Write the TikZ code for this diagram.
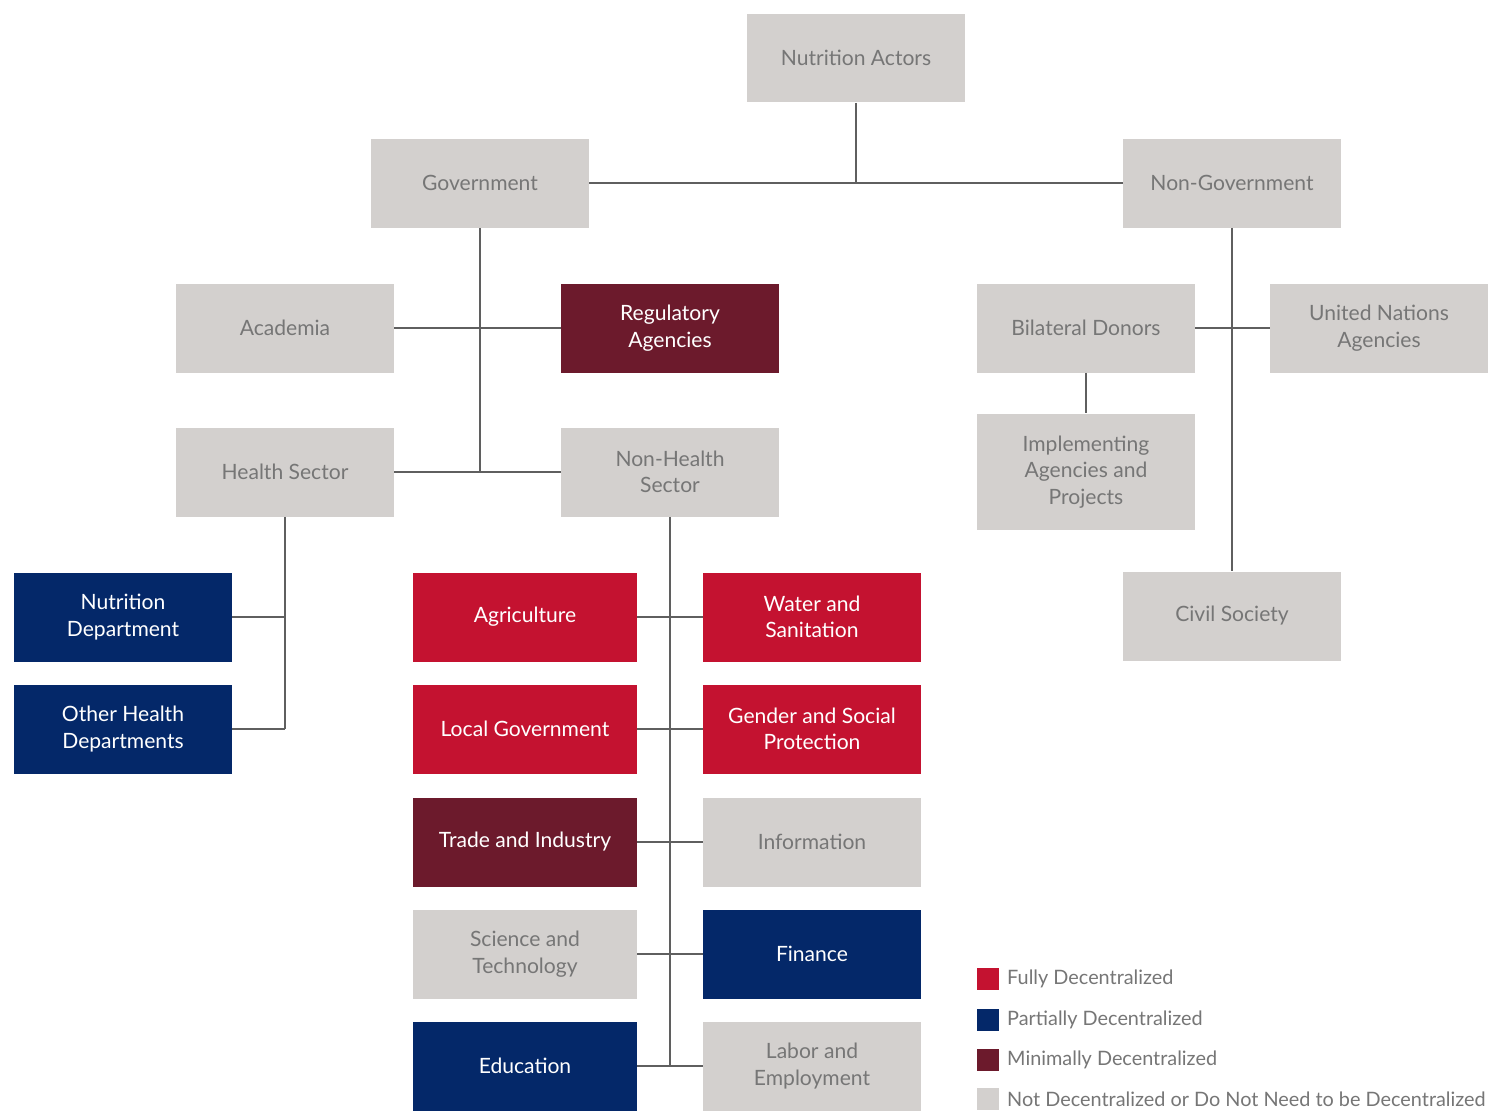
\documentclass[tikz,border=0pt]{standalone}
\usepackage{fontspec}
\setmainfont{Lato}
\definecolor{fullred}{RGB}{196,18,48}
\definecolor{partblue}{RGB}{4,40,105}
\definecolor{minmaroon}{RGB}{108,26,44}
\definecolor{notgray}{RGB}{211,208,206}
\definecolor{graytext}{RGB}{118,118,118}
\definecolor{linegray}{RGB}{95,95,95}

\tikzset{
    actor/.style={rectangle, minimum width=4.36cm, minimum height=1.78cm, align=center, inner sep=2pt, font=\fontsize{12}{15}\selectfont},
    grayactor/.style={actor, fill=notgray, text=graytext},
    redactor/.style={actor, fill=fullred, text=white},
    blueactor/.style={actor, fill=partblue, text=white},
    maroonactor/.style={actor, fill=minmaroon, text=white},
    link/.style={draw=linegray, line width=0.9pt},
    keybox/.style={rectangle, minimum size=0.44cm, inner sep=0pt},
    keytext/.style={anchor=west, text=graytext, font=\fontsize{11.3}{13}\selectfont}
}

\begin{document}
\begin{tikzpicture}[x=0.02cm, y=-0.02cm]
    \useasboundingbox[fill=white] (0,0) rectangle (1492,1110);

    % Top levels
    \node[grayactor] (actors) at (856,58) {Nutrition Actors};
    \node[grayactor] (gov) at (480,183) {Government};
    \node[grayactor] (nongov) at (1232,183) {Non-Government};

    % Government branch
    \node[grayactor] (academia) at (285,328) {Academia};
    \node[maroonactor] (regulatory) at (670,328) {Regulatory\\Agencies};
    \node[grayactor] (health) at (285,472) {Health Sector};
    \node[grayactor] (nonhealth) at (670,472) {Non-Health\\Sector};

    % Health sector
    \node[blueactor] (nutdept) at (123,617) {Nutrition\\Department};
    \node[blueactor] (otherhealth) at (123,729) {Other Health\\Departments};

    % Non-health sector, left column
    \node[redactor, minimum width=4.48cm] (agri) at (525,617) {Agriculture};
    \node[redactor, minimum width=4.48cm] (localgov) at (525,729) {Local Government};
    \node[maroonactor, minimum width=4.48cm] (trade) at (525,842) {Trade and Industry};
    \node[grayactor, minimum width=4.48cm] (science) at (525,954) {Science and\\Technology};
    \node[blueactor, minimum width=4.48cm] (education) at (525,1066) {Education};

    % Non-health sector, right column
    \node[redactor] (water) at (812,617) {Water and\\Sanitation};
    \node[redactor] (gender) at (812,729) {Gender and Social\\Protection};
    \node[grayactor] (info) at (812,842) {Information};
    \node[blueactor] (finance) at (812,954) {Finance};
    \node[grayactor] (labor) at (812,1066) {Labor and\\Employment};

    % Non-government branch
    \node[grayactor] (bilateral) at (1086,328) {Bilateral Donors};
    \node[grayactor] (un) at (1379,328) {United Nations\\Agencies};
    \node[grayactor, minimum height=2.34cm] (implement) at (1086,472) {Implementing\\Agencies and\\Projects};
    \node[grayactor] (civil) at (1232,616) {Civil Society};

    % Connectors
    \draw[link] (actors.south) -- (actors.south |- gov.east);
    \draw[link] (gov.east) -- (nongov.west);
    \draw[link] (gov.south) -- (gov.south |- health.east);
    \draw[link] (academia.east) -- (regulatory.west);
    \draw[link] (health.east) -- (nonhealth.west);
    \draw[link] (health.south) -- (health.south |- otherhealth.east);
    \draw[link] (nutdept.east) -- (health.south |- nutdept.east);
    \draw[link] (otherhealth.east) -- (health.south |- otherhealth.east);
    \draw[link] (nonhealth.south) -- (nonhealth.south |- education.east);
    \foreach \l/\r in {agri/water, localgov/gender, trade/info, science/finance, education/labor}
        \draw[link] (\l.east) -- (\r.west);
    \draw[link] (nongov.south) -- (civil.north);
    \draw[link] (bilateral.east) -- (un.west);
    \draw[link] (bilateral.south) -- (implement.north);

    % Legend
    \node[keybox, fill=fullred] (keyfull) at (988,979) {};
    \node[keybox, fill=partblue] (keypart) at (988,1020) {};
    \node[keybox, fill=minmaroon] (keymin) at (988,1060) {};
    \node[keybox, fill=notgray] (keynot) at (988,1099) {};
    \node[keytext] at (1001,979) {Fully Decentralized};
    \node[keytext] at (1001,1020) {Partially Decentralized};
    \node[keytext] at (1001,1060) {Minimally Decentralized};
    \node[keytext] at (1001,1099) {Not Decentralized or Do Not Need to be Decentralized};
\end{tikzpicture}
\end{document}
